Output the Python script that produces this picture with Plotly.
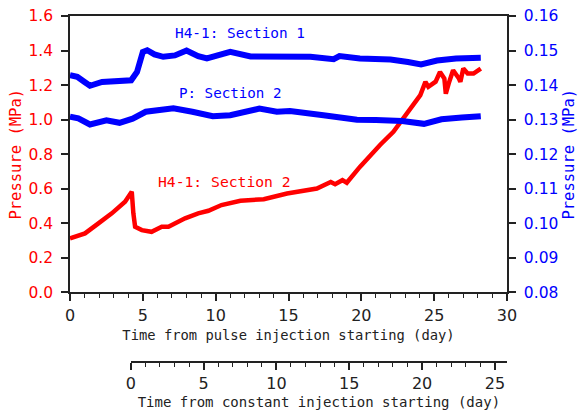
import plotly.graph_objects as go

# H4-1: Section 2 (left axis, MPa)
red_day = [0, 0.57, 1.03, 1.95, 2.87, 3.78, 4.24, 4.35, 4.47, 4.93, 5.6, 6.3, 6.76, 7.9, 8.8, 9.5,
           10.4, 11.7, 13.3, 14.9, 16.95, 17.9, 18.2, 18.7, 19.0, 19.9, 20.4, 20.6, 21.3, 22.2, 22.9,
           23.6, 24.05, 24.4, 24.6, 25.1, 25.4, 25.7, 25.8, 26.0, 26.3, 26.7, 26.8, 27.0, 27.3, 27.7, 28.2]
red_val = [0.313, 0.332, 0.342, 0.40, 0.458, 0.525, 0.583, 0.458, 0.38, 0.361, 0.351, 0.38, 0.38, 0.429,
           0.458, 0.473, 0.506, 0.531, 0.54, 0.573, 0.602, 0.64, 0.627, 0.65, 0.635, 0.727, 0.776, 0.795,
           0.855, 0.93, 1.007, 1.094, 1.142, 1.219, 1.19, 1.22, 1.276, 1.238, 1.15, 1.21, 1.286, 1.238,
           1.219, 1.296, 1.267, 1.267, 1.296]

# H4-1: Section 1 (right axis, MPa)
s1_day = [0, 0.5, 1.0, 1.37, 2.2, 3.1, 4.2, 4.6, 4.8, 5.0, 5.3, 5.8, 6.4, 7.2, 8.0, 8.8, 9.4, 10.5,
          11.0, 12.4, 14.9, 16.5, 18.1, 18.5, 19.9, 22.0, 23.2, 24.1, 25.2, 26.5, 28.2]
s1_val = [0.1429, 0.1424, 0.1409, 0.1398, 0.1409, 0.1412, 0.1414, 0.1438, 0.1465, 0.1496, 0.1501,
          0.1489, 0.1482, 0.1486, 0.1500, 0.1484, 0.1477, 0.1488, 0.1496, 0.1483, 0.1485, 0.1482,
          0.1475, 0.1484, 0.1477, 0.1474, 0.1467, 0.1460, 0.1471, 0.1477, 0.1479]

# P: Section 2 (right axis, MPa)
p2_day = [0, 0.57, 1.37, 2.5, 3.4, 4.3, 5.2, 7.1, 8.4, 9.8, 11.0, 13.0, 14.2, 15.1, 17.4, 19.7,
          21.0, 22.0, 22.8, 24.3, 25.5, 26.9, 28.2]
p2_val = [0.1309, 0.1304, 0.1286, 0.1298, 0.1291, 0.1303, 0.1323, 0.1333, 0.1323, 0.1310, 0.1313,
          0.1332, 0.1323, 0.1325, 0.1313, 0.1300, 0.1299, 0.1299, 0.1296, 0.1288, 0.1301, 0.1306, 0.1310]

x1_ticks = [0, 5, 10, 15, 20, 25, 30]
x2_ticks = [0, 5, 10, 15, 20, 25]
x2_offset = 4.17  # constant injection start, in pulse-injection days

NUM = "DejaVu Sans"
TXT = "DejaVu Sans Mono"
AX = "#222222"
RED = "#ff0000"
BLUE = "#0000ff"

fig = go.Figure()
fig.add_trace(go.Scatter(x=red_day, y=red_val, mode="lines", line=dict(color=RED, width=4.5),
                         xaxis="x", yaxis="y", showlegend=False))
fig.add_trace(go.Scatter(x=s1_day, y=s1_val, mode="lines", line=dict(color=BLUE, width=6),
                         xaxis="x", yaxis="y2", showlegend=False))
fig.add_trace(go.Scatter(x=p2_day, y=p2_val, mode="lines", line=dict(color=BLUE, width=6),
                         xaxis="x", yaxis="y2", showlegend=False))
# invisible trace to carry the second time axis
fig.add_trace(go.Scatter(x=[0, 30 - x2_offset], y=[None, None], mode="lines",
                         xaxis="x2", yaxis="y", showlegend=False, hoverinfo="skip"))

ydom0 = 0.2009

common = dict(ticks="outside", ticklen=7, tickwidth=1.5, tickcolor=AX,
              showline=True, linecolor=AX, linewidth=1.5,
              showgrid=False, zeroline=False, automargin=False)
xminor = dict(dtick=1, ticks="outside", ticklen=4, tickwidth=1.2, tickcolor=AX, showgrid=False)

fig.update_layout(
    width=579, height=412,
    margin=dict(l=70, r=72, t=16, b=50),
    paper_bgcolor="white", plot_bgcolor="rgba(0,0,0,0)",
    font=dict(family=TXT, size=14, color=AX),
    showlegend=False,
    xaxis=dict(
        domain=[0, 1], range=[0, 30], anchor="y", mirror=True,
        tickvals=x1_ticks, minor=xminor, ticklabelstandoff=1,
        tickfont=dict(family=NUM, size=16, color=AX),
        title=dict(text="Time from pulse injection starting (day)", standoff=6,
                   font=dict(family=TXT, size=13.8, color=AX)),
        **common,
    ),
    xaxis2=dict(
        domain=[x2_offset / 30, 1], range=[0, 30 - x2_offset], anchor="free", position=0,
        tickvals=x2_ticks, minor=xminor, ticklabelstandoff=0,
        tickfont=dict(family=NUM, size=16, color=AX),
        title=dict(text="Time from constant injection starting (day)", standoff=4,
                   font=dict(family=TXT, size=14, color=AX)),
        **common,
    ),
    yaxis=dict(
        domain=[ydom0, 1], range=[0, 1.6], dtick=0.2, tickformat=".1f", ticklabelstandoff=5,
        tickfont=dict(family=NUM, size=15.5, color=RED),
        title=dict(text="Pressure (MPa)", standoff=3, font=dict(family=TXT, size=15.5, color=RED)),
        **common,
    ),
    yaxis2=dict(
        domain=[ydom0, 1], range=[0.08, 0.16], dtick=0.01, tickformat=".2f",
        overlaying="y", side="right", anchor="x", ticklabelstandoff=5,
        tickfont=dict(family=NUM, size=15.5, color=BLUE),
        title=dict(text="Pressure (MPa)", standoff=6, font=dict(family=TXT, size=15.5, color=BLUE)),
        **common,
    ),
    annotations=[
        dict(x=11.67, y=1.50, xref="x", yref="y", text="H4-1: Section 1", showarrow=False,
             font=dict(family=TXT, size=14.4, color=BLUE)),
        dict(x=11.05, y=1.155, xref="x", yref="y", text="P: Section 2", showarrow=False,
             font=dict(family=TXT, size=14.2, color=BLUE)),
        dict(x=10.6, y=0.645, xref="x", yref="y", text="H4-1: Section 2", showarrow=False,
             font=dict(family=TXT, size=14.7, color=RED)),
    ],
)

fig.write_html("out.html")
